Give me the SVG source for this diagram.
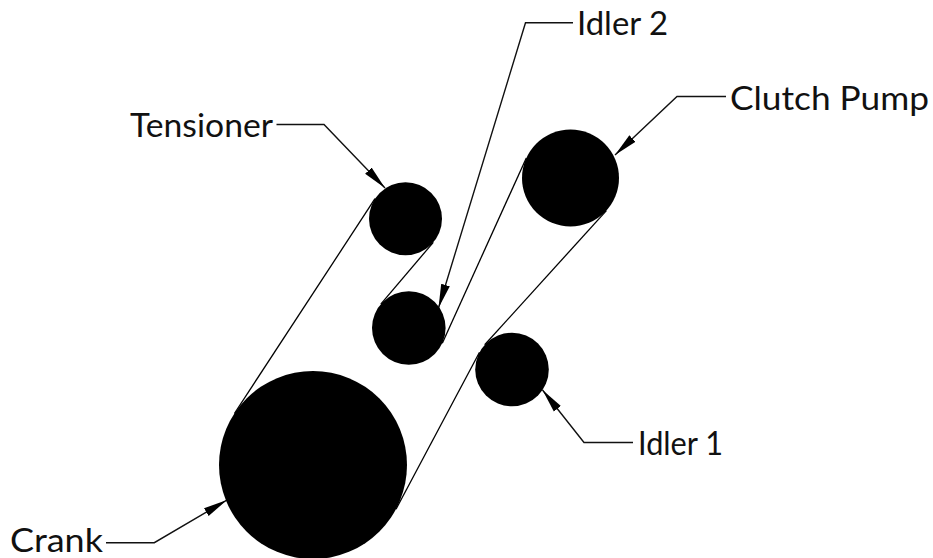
<svg xmlns="http://www.w3.org/2000/svg" width="933" height="558" viewBox="0 0 933 558">
<style>
.p{fill:#000}
.b{stroke:#000;stroke-width:1.3;fill:none}
.l{stroke:#111;stroke-width:1.4;fill:none;marker-end:url(#a)}
.t{font-family:"Lato","Open Sans","Liberation Sans",sans-serif;font-size:32px;font-weight:400;fill:#111}
</style>
<defs>
<marker id="a" markerUnits="userSpaceOnUse" markerWidth="25" markerHeight="11" refX="24" refY="5" orient="auto">
<path d="M0 .5L24 5L0 9.500Z" fill="#000"/>
</marker>
</defs>
<rect width="933" height="558" fill="#fff"/>
<g id="connectors">
<path class="b" d="M234.400 413.500L375 198.700"/>
<path class="b" d="M433.300 242.300L380.800 304.200"/>
<path class="b" d="M442.300 343.200L526.300 158"/>
<path class="b" d="M606.400 210.600L484.700 344.800"/>
<path class="b" d="M479.500 352.200L396 509.200"/>
<polyline class="l" points="573,22.700 525.500,22.700 438.500,308"/>
<polyline class="l" points="726,96.500 677,96.500 615,155"/>
<polyline class="l" points="276.500,124.500 324,124.500 385,188"/>
<polyline class="l" points="633,442.500 584,442.500 542.500,390"/>
<polyline class="l" points="106,542.700 154.300,542.700 227,500"/>
</g>
<g id="crank"><circle class="p" cx="313" cy="465" r="94"/><text class="t" x="10" y="551.500" textLength="93" lengthAdjust="spacingAndGlyphs">Crank</text></g>
<g id="tensioner"><circle class="p" cx="405.500" cy="218.700" r="36.500"/><text class="t" x="130" y="137" textLength="143" lengthAdjust="spacingAndGlyphs">Tensioner</text></g>
<g id="idler2"><circle class="p" cx="408.800" cy="328" r="36.800"/><text class="t" x="577" y="35" textLength="91" lengthAdjust="spacingAndGlyphs">Idler 2</text></g>
<g id="clutch-pump"><circle class="p" cx="570.500" cy="178" r="48.500"/><text class="t" x="730" y="109.500" textLength="199" lengthAdjust="spacingAndGlyphs">Clutch Pump</text></g>
<g id="idler1"><circle class="p" cx="512" cy="369.500" r="36.800"/><text class="t" x="638" y="455" textLength="85" lengthAdjust="spacingAndGlyphs">Idler 1</text></g>
</svg>
